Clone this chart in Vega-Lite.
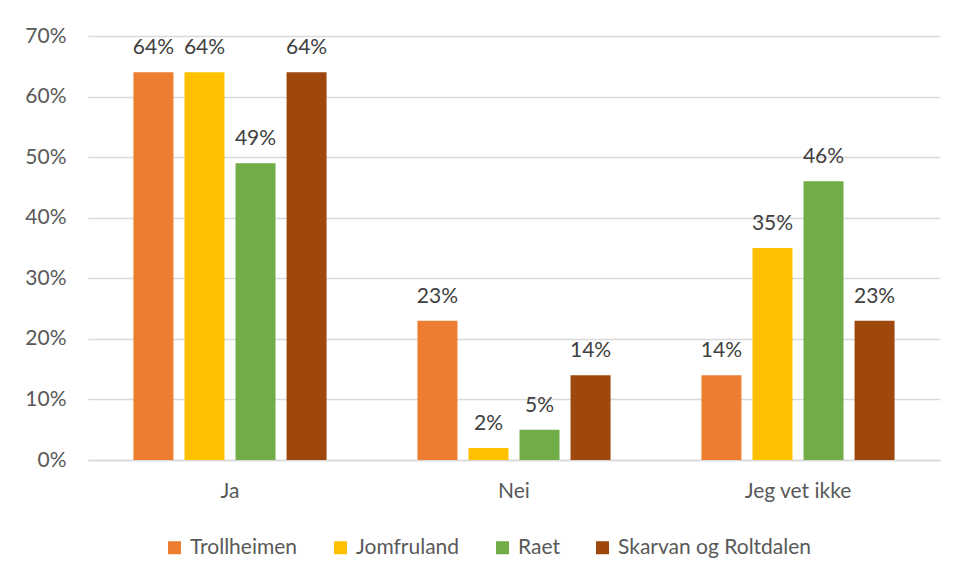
{
  "$schema": "https://vega.github.io/schema/vega-lite/v6.json",
  "width": 852,
  "height": 424,
  "autosize": {"type": "none"},
  "padding": {"left": 88, "top": 36, "right": 14, "bottom": 113},
  "background": "white",
  "config": {
    "view": {"stroke": null},
    "font": "Lato"
  },
  "data": {
    "values": [
      {"svar": "Ja", "omrade": "Trollheimen", "andel": 0.64},
      {"svar": "Ja", "omrade": "Jomfruland", "andel": 0.64},
      {"svar": "Ja", "omrade": "Raet", "andel": 0.49},
      {"svar": "Ja", "omrade": "Skarvan og Roltdalen", "andel": 0.64},
      {"svar": "Nei", "omrade": "Trollheimen", "andel": 0.23},
      {"svar": "Nei", "omrade": "Jomfruland", "andel": 0.02},
      {"svar": "Nei", "omrade": "Raet", "andel": 0.05},
      {"svar": "Nei", "omrade": "Skarvan og Roltdalen", "andel": 0.14},
      {"svar": "Jeg vet ikke", "omrade": "Trollheimen", "andel": 0.14},
      {"svar": "Jeg vet ikke", "omrade": "Jomfruland", "andel": 0.35},
      {"svar": "Jeg vet ikke", "omrade": "Raet", "andel": 0.46},
      {"svar": "Jeg vet ikke", "omrade": "Skarvan og Roltdalen", "andel": 0.23}
    ]
  },
  "encoding": {
    "x": {
      "field": "svar", "type": "nominal", "sort": ["Ja", "Nei", "Jeg vet ikke"],
      "scale": {"paddingInner": 0.32, "paddingOuter": 0.16},
      "axis": {"title": null, "labelAngle": 0, "ticks": false, "domainColor": "#d9d9d9", "domainWidth": 1.5, "labelPadding": 20, "labelFont": "Lato", "labelFontSize": 21, "labelColor": "#595959"}
    },
    "xOffset": {
      "field": "omrade", "type": "nominal",
      "sort": ["Trollheimen", "Jomfruland", "Raet", "Skarvan og Roltdalen"],
      "scale": {"paddingInner": 0.216, "paddingOuter": 0}
    },
    "y": {
      "field": "andel", "type": "quantitative",
      "scale": {"domain": [0, 0.7], "nice": false},
      "axis": {"title": null, "format": ".0%", "values": [0, 0.1, 0.2, 0.3, 0.4, 0.5, 0.6, 0.7], "labelOverlap": false, "domain": false, "ticks": false, "gridColor": "#d9d9d9", "gridWidth": 1.3, "labelPadding": 22, "labelFont": "Lato", "labelFontSize": 21, "labelColor": "#595959"}
    }
  },
  "layer": [
    {
      "mark": {"type": "bar"},
      "encoding": {
        "color": {
          "field": "omrade", "type": "nominal",
          "sort": ["Trollheimen", "Jomfruland", "Raet", "Skarvan og Roltdalen"],
          "scale": {"domain": ["Trollheimen", "Jomfruland", "Raet", "Skarvan og Roltdalen"], "range": ["#ED7D31", "#FFC000", "#70AD47", "#9E480E"]},
          "legend": {"title": null, "orient": "none", "legendX": 76, "legendY": 501, "direction": "horizontal", "symbolType": "square", "symbolSize": 169, "symbolStrokeWidth": 0, "symbolOpacity": 1, "columnPadding": 32, "labelOffset": 5, "labelLimit": 400, "labelFont": "Lato", "labelFontSize": 21, "labelColor": "#595959"}
        }
      }
    },
    {
      "mark": {"type": "text", "baseline": "bottom", "dy": -14, "fontSize": 21, "color": "#404040", "font": "Lato"},
      "encoding": {
        "text": {"field": "andel", "type": "quantitative", "format": ".0%"}
      }
    }
  ]
}
